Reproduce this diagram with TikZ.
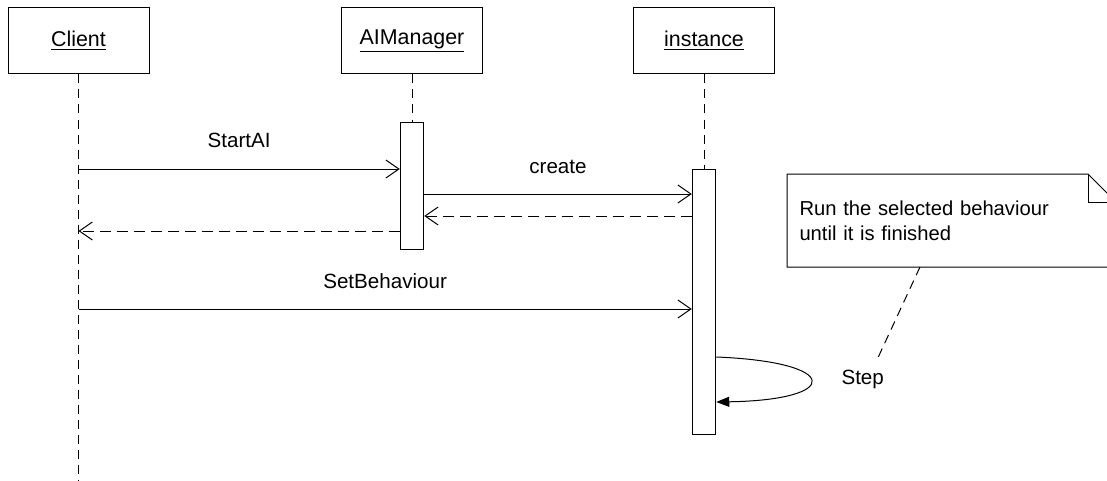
\documentclass[tikz,border=0pt]{standalone}
\usepackage{fontspec}
\setmainfont{Liberation Sans}
\usetikzlibrary{arrows.meta, positioning}

\begin{document}
\begin{tikzpicture}[x=0.5pt, y=-0.5pt, line width=0.5pt,
    font=\fontsize{10.3}{12.5}\selectfont,
    object/.style={draw, minimum width=70.5pt, minimum height=33pt, inner sep=0pt,
      font=\fontsize{10.7}{12.5}\selectfont},
    activation/.style={draw, fill=white, minimum width=11.75pt, inner sep=0pt},
    lifeline/.style={dash pattern=on 4.5pt off 3pt},
    call/.style={-{Straight Barb[length=6.5pt, width=9pt]}},
    reply/.style={call, dash pattern=on 5.5pt off 3pt},
    msg/.style={midway, anchor=base, yshift=10.5pt},
    note/.style={text width=152pt, inner xsep=6pt, minimum height=46pt, align=left,
      font=\fontsize{10.1}{12.5}\selectfont}]
  \useasboundingbox (0,0) rectangle (1107,481);
  \clip (0,0) rectangle (1107,481);

  % objects
  \node[object] (client) at (78.5,41) {\underline{Client}};
  \node[object] (manager) at (412,41) {\underline{AIManager}};
  \node[object] (instance) at (704,41) {\underline{instance}};

  % activations
  \node[activation, minimum height=63.5pt] (manageract) at (412,185.5) {};
  \node[activation, minimum height=132.5pt] (instanceact) at (704,301.5) {};

  % lifelines
  \draw[lifeline] (client) -- (client |- 0,481);
  \draw[lifeline] (manager) -- (manageract);
  \draw[lifeline] (instance) -- (instanceact);

  % message heights
  \coordinate (m1) at (0,169);
  \coordinate (m2) at (0,194);
  \coordinate (m3) at (0,216);
  \coordinate (m4) at (0,231);
  \coordinate (m5) at (0,309);

  \draw[call] (client |- m1) -- node[msg] {StartAI} (manageract.west |- m1);
  \draw[call] (manageract.east |- m2) -- node[msg] {create} (instanceact.west |- m2);
  \draw[reply] (instanceact.west |- m3) -- (manageract.east |- m3);
  \draw[reply] (manageract.west |- m4) -- (client |- m4);
  \draw[call] (client |- m5) -- node[msg] {SetBehaviour} (instanceact.west |- m5);

  % self call
  \node[anchor=base west, inner sep=0pt] (step) at (841,384) {Step};
  \draw[-{Triangle[length=6.5pt, width=5pt]}] (instanceact.east |- 0,357)
    .. controls (842,362) and (842,400) .. (instanceact.east |- 0,402);

  % comment note
  \node[note, anchor=north west] (comment) at (787,174)
    {Run the selected behaviour\\until it is finished};
  \draw (comment.south west) -- (comment.north west)
    -- ([xshift=-14pt]comment.north east) -- ([yshift=-14pt]comment.north east)
    -- (comment.south east) -- cycle;
  \draw ([xshift=-14pt]comment.north east) |- ([yshift=-14pt]comment.north east);
  \draw[lifeline, shorten >=6.5pt] ([xshift=66.5pt]comment.south west) -- ([xshift=5pt]step.north);
\end{tikzpicture}
\end{document}
